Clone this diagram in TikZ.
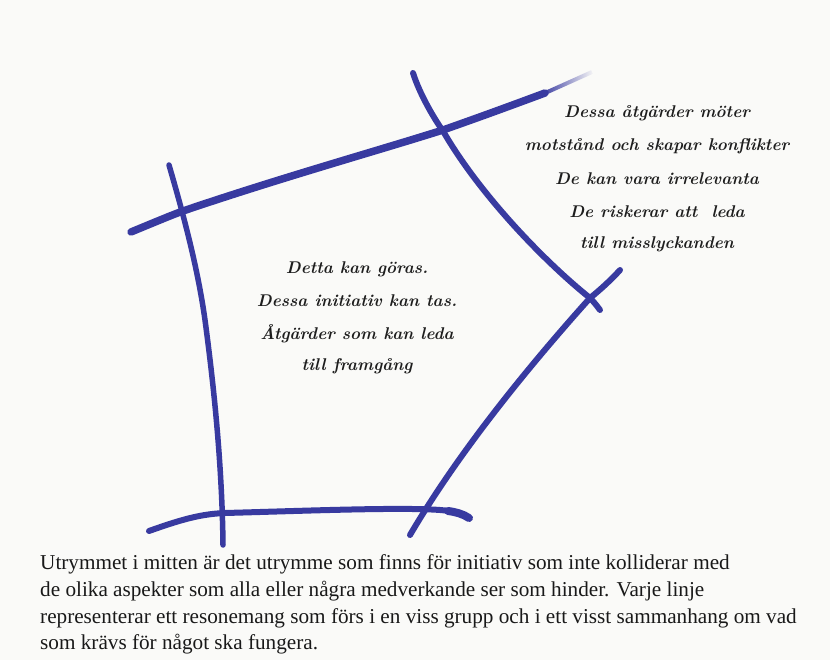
\documentclass[tikz,border=0pt]{standalone}
\usepackage{fontspec}
\usetikzlibrary{fadings}
\newfontfamily\bodyfont{Liberation Serif}
\definecolor{ink}{RGB}{56,58,160}
\definecolor{bg}{RGB}{250,250,248}
\definecolor{scripttext}{RGB}{30,30,30}
\tikzset{
  brush/.style={draw=ink, line cap=round, line join=round},
  scriptline/.style={font=\fontsize{17}{20}\selectfont\bfseries\itshape, text=scripttext, inner sep=0pt, anchor=center},
  bodyline/.style={font=\bodyfont\fontsize{21.2}{24}\selectfont, text=black!90, inner sep=0pt, anchor=base west}
}
\begin{document}
\begin{tikzpicture}[x=1pt,y=-1pt]
\fill[bg] (0,0) rectangle (830,660);
\useasboundingbox (0,0) rectangle (830,660);

% top stroke (fading to the right)
\draw[brush, line width=7.5] (131,232) .. controls (160,220) and (172,215) .. (183,211)
   .. controls (280,178) and (380,150) .. (443,130)
   .. controls (480,117) and (510,106) .. (545,93);
\draw[brush, line width=4, line cap=butt, path fading=east] (543,94) -- (592,72);

% left vertical stroke
\draw[brush, line width=5.5] (169,165) .. controls (185,220) and (198,270) .. (205,320)
   .. controls (213,380) and (222,460) .. (223,545);

% bottom stroke
\draw[brush, line width=6] (149,531) .. controls (180,520) and (200,514) .. (225,513)
   .. controls (300,511) and (400,507) .. (440,510)
   .. controls (455,511) and (463,514) .. (469,518);
\draw[brush, line width=8] (448,511) .. controls (456,512) and (463,514) .. (469,518);

% upper right diagonal
\draw[brush, line width=6] (413,73) .. controls (420,95) and (435,120) .. (443,131)
   .. controls (480,195) and (545,262) .. (590,298)
   .. controls (594,302) and (597,306) .. (600,310);

% lower right diagonal
\draw[brush, line width=6] (620,270) .. controls (612,279) and (600,290) .. (590,298)
   .. controls (530,365) and (460,450) .. (410,535);

% right text block
\node[scriptline] (r1) at (657,113) {Dessa åtgärder möter};
\node[scriptline] (r2) at (657,146) {motstånd och skapar konflikter};
\node[scriptline] (r3) at (657,179) {De kan vara irrelevanta};
\node[scriptline] (r4) at (657,212) {De riskerar att\ \ leda};
\node[scriptline] (r5) at (657,244) {till misslyckanden};

% centre text block
\node[scriptline] (c1) at (357,269) {Detta kan göras.};
\node[scriptline] (c2) at (357,301) {Dessa initiativ kan tas.};
\node[scriptline] (c3) at (357,334) {Åtgärder som kan leda};
\node[scriptline] (c4) at (357,366) {till framgång};

% caption
\node[bodyline] (b1) at (40,569) {Utrymmet i mitten är det utrymme som finns för initiativ som inte kolliderar med};
\node[bodyline] (b2) at (40,596) {de olika aspekter som alla eller några medverkande ser som hinder. Varje linje};
\node[bodyline] (b3) at (40,623) {representerar ett resonemang som förs i en viss grupp och i ett visst sammanhang om vad};
\node[bodyline] (b4) at (40,649) {som krävs för något ska fungera.};
\end{tikzpicture}
\end{document}
